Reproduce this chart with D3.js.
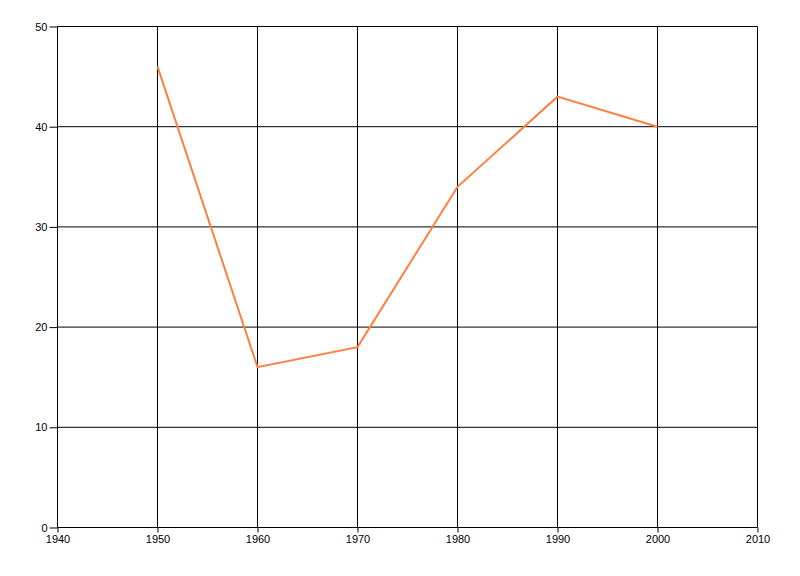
<!DOCTYPE html>
<html><head><meta charset="utf-8">
<script src="https://cdn.jsdelivr.net/npm/d3@7"></script>
<style>
html,body{margin:0;padding:0;background:#fff;}
svg text{font-family:"Liberation Sans","DejaVu Sans",sans-serif;font-size:11px;fill:#000;}
</style>
</head><body>
<svg id="chart" width="800" height="576"></svg>
<script>
const years = [1950, 1960, 1970, 1980, 1990, 2000];
const values = [46, 16, 18, 34, 43, 40];
const xTicks = [1940, 1950, 1960, 1970, 1980, 1990, 2000, 2010];
const yTicks = [0, 10, 20, 30, 40, 50];

(function () {
const svg = d3.select("#chart");
const mLeft = 57.5, mRight = 757.5, mTop = 26.5, mBottom = 527.5;
const x = d3.scaleLinear().domain([1940, 2010]).range([mLeft, mRight]);
const y = d3.scaleLinear().domain([0, 50]).range([mBottom, mTop]);

// grid
svg.append("g").selectAll("line").data(xTicks).join("line")
  .attr("x1", d => x(d)).attr("x2", d => x(d))
  .attr("y1", mTop).attr("y2", mBottom)
  .attr("stroke", "#000").attr("stroke-width", 1);
svg.append("g").selectAll("line").data(yTicks).join("line")
  .attr("x1", mLeft).attr("x2", mRight)
  .attr("y1", d => y(d)).attr("y2", d => y(d))
  .attr("stroke", "#000").attr("stroke-width", 1);

// axes
const xAxis = svg.append("g").attr("transform", `translate(0,${mBottom})`)
  .call(d3.axisBottom(x).tickValues(xTicks).tickFormat(d3.format("d")).tickSize(5).tickPadding(3));
const yAxis = svg.append("g").attr("transform", `translate(${mLeft},0)`)
  .call(d3.axisLeft(y).tickValues(yTicks).tickSize(8).tickPadding(2));
[xAxis, yAxis].forEach(a => {
  a.select(".domain").remove();
  a.selectAll("line").attr("stroke", "#000");
  a.selectAll("text").attr("font-family", null).attr("font-size", null);
});

// line
const data = years.map((yr, i) => ({yr, v: values[i]}));
svg.append("path").datum(data)
  .attr("fill", "none").attr("stroke", "#ff7f40").attr("stroke-width", 2)
  .attr("d", d3.line().x(d => x(d.yr)).y(d => y(d.v)));
})();
</script>
</body></html>
